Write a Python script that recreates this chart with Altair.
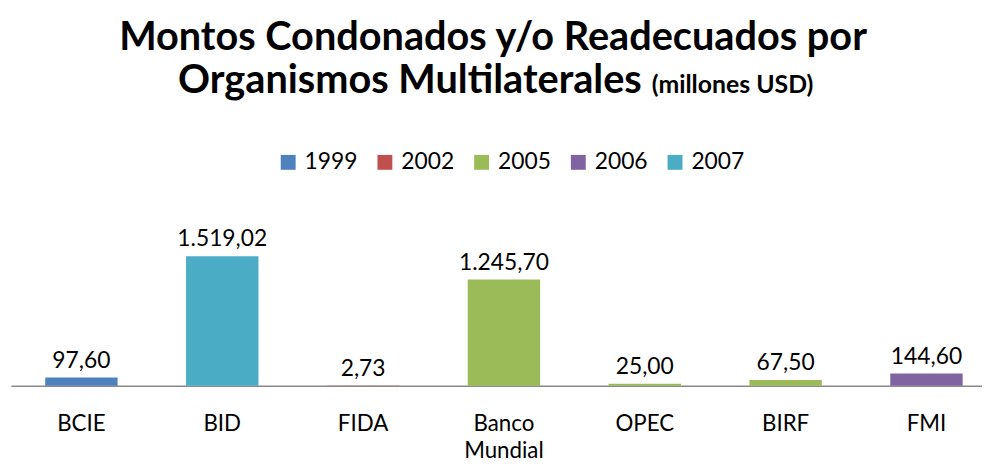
import altair as alt
import pandas as pd

categories = ["BCIE", "BID", "FIDA", "Banco Mundial", "OPEC", "BIRF", "FMI"]
years = ["1999", "2007", "2002", "2005", "2005", "2005", "2006"]
values = [97.60, 1519.02, 2.73, 1245.70, 25.00, 67.50, 144.60]
labels = ["97,60", "1.519,02", "2,73", "1.245,70", "25,00", "67,50", "144,60"]

series = ["1999", "2002", "2005", "2006", "2007"]
colors = ["#4F81BD", "#C0504D", "#9BBB59", "#8064A2", "#4BACC6"]

title_line1 = "Montos Condonados y/o Readecuados por"
title_line2 = "Organismos Multilaterales"
title_units = "(millones USD)"

FONT = "Lato"

df = pd.DataFrame({"cat": categories, "year": years, "value": values, "label": labels})

x_enc = alt.X(
    "cat:N",
    sort=categories,
    scale=alt.Scale(range=[0, 994], paddingInner=0.486, paddingOuter=0.243),
    axis=alt.Axis(
        title=None,
        labelFont=FONT,
        labelFontSize=22.5,
        labelColor="#000000",
        labelAngle=0,
        labelBaseline="alphabetic",
        labelPadding=45.5,
        labelLineHeight=27,
        labelExpr="datum.label == 'Banco Mundial' ? ['Banco', 'Mundial'] : datum.label",
        ticks=False,
        domainColor="#898989",
        domainWidth=1.5,
        grid=False,
    ),
)
y_enc = alt.Y("value:Q", scale=alt.Scale(domain=[0, 2000]), axis=None)

bars = alt.Chart(df).mark_bar().encode(
    x=x_enc,
    y=y_enc,
    color=alt.Color(
        "year:N",
        scale=alt.Scale(domain=series, range=colors),
        legend=alt.Legend(
            title=None,
            orient="none",
            direction="horizontal",
            legendX=268,
            legendY=-65,
            symbolType="square",
            symbolSize=225,
            symbolStrokeWidth=0,
            labelFont=FONT,
            labelFontSize=23,
            labelColor="#000000",
            labelOffset=5,
            columnPadding=15.5,
            padding=0,
        ),
    ),
)

text = alt.Chart(df).mark_text(
    font=FONT, fontSize=23, color="#000000", baseline="alphabetic", dy=-10
).encode(x=alt.X("cat:N", sort=categories), y="value:Q", text="label:N")

t1 = alt.Chart(pd.DataFrame({"t": [title_line1]})).mark_text(
    font=FONT, fontSize=40, fontWeight="bold", color="#000000", align="center", baseline="alphabetic"
).encode(text="t:N", x=alt.value(486), y=alt.value(-167))

t2 = alt.Chart(pd.DataFrame({"t": [title_line2]})).mark_text(
    font=FONT, fontSize=40, fontWeight="bold", color="#000000", align="right", baseline="alphabetic"
).encode(text="t:N", x=alt.value(636), y=alt.value(-123))

t3 = alt.Chart(pd.DataFrame({"t": [title_units]})).mark_text(
    font=FONT, fontSize=25, fontWeight="bold", color="#000000", align="left", baseline="alphabetic"
).encode(text="t:N", x=alt.value(646), y=alt.value(-123))

chart = alt.layer(bars, text, t1, t2, t3).properties(
    width=979,
    height=172,
    autosize=alt.AutoSizeParams(type="none"),
    padding={"left": 3, "top": 207, "right": 0, "bottom": 77},
).configure_view(stroke=None)

chart.save("out.html", embed_options={"renderer": "svg", "actions": False})
